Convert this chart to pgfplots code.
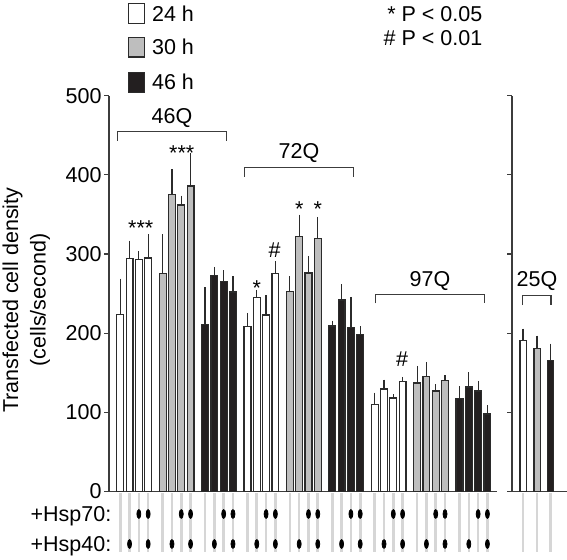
\documentclass[border=0pt]{standalone}
\usepackage{fontspec}
\setmainfont{Liberation Sans}
\usepackage{pgfplots}
\usepackage{pgfplotstable}
\pgfplotsset{compat=1.18}
\definecolor{axisgray}{HTML}{3C3C3C}
\definecolor{barline}{HTML}{2B2B2B}
\definecolor{barfill}{HTML}{BEBEBE}
\definecolor{barblack}{HTML}{231F20}
\definecolor{guide}{HTML}{D6D6D6}
\newcommand\fs{\fontsize{10.75}{13.75}\selectfont}

\pgfplotstableread{
x y e
0 224 42
1 294 20
2 293 8
3 295 27
13.68 208 15
14.68 245 7
15.68 223 22
16.68 275 13
27.36 110 12
28.36 129.5 9
29.36 118 2
30.36 139 3
}\whitedata
\pgfplotstableread{
x y e
4.56 275 47
5.56 375 29
6.56 362 9
7.56 386 39
18.24 253 16
19.24 322 25
20.24 276 19
21.24 320 24
31.92 137 19
32.92 145 16
33.92 127 6
34.92 140 4
}\graydata
\pgfplotstableread{
x y e
9.12 211 44
10.12 273 8
11.12 265 12
12.12 252 17
22.8 209 4
23.8 242 17
24.8 207 36
25.8 198 8
36.48 117 13
37.48 132 16
38.48 127 10
39.48 98 8
}\blackdata
\pgfplotstableread{
x y e
11 191 12
}\rwhite
\pgfplotstableread{
x y e
25 181 13
}\rgray
\pgfplotstableread{
x y e
38.3 166 18
}\rblack

\pgfplotsset{
  panel/.style={
    scale only axis, anchor=south west,
    ymin=0, ymax=500, ytick={0,100,...,500},
    axis lines=left, xtick=\empty,
    axis line style={-, draw=axisgray, line width=0.55pt},
    x axis line style={shorten <=-2.35pt},
    tick align=outside, major tick length=2.35pt,
    tick style={draw=axisgray, line width=0.55pt},
    ticklabel style={font=\fs},
    /pgf/number format/assume math mode=true,
    clip=false,
  },
  errs/.style={error bars/.cd, y dir=plus, y explicit,
    error bar style={line width=0.6pt, draw=barline},
    error mark options={mark size=1.1pt, line width=0.6pt, draw=barline}},
  guides/.style={forget plot, draw=none, mark=none,
    error bars/.cd, y dir=both, y explicit, error mark=none,
    error bar style={line width=1.3pt, draw=guide}},
}

\begin{document}
\begin{tikzpicture}
\useasboundingbox (0,0) rectangle (283.5pt,279.5pt);

\begin{axis}[panel,
  at={(54.5pt,33.75pt)},
  width=194pt, height=197.9pt,
  xmin=-1.21, xmax=40.51,
  yticklabel style={inner sep=0pt, xshift=-1.2pt},
]
% guide lines under the bars
\addplot[guides] coordinates {
(0,-39.25) +- (0,36.75) (1,-39.25) +- (0,36.75) (2,-39.25) +- (0,36.75) (3,-39.25) +- (0,36.75)
(4.56,-39.25) +- (0,36.75) (5.56,-39.25) +- (0,36.75) (6.56,-39.25) +- (0,36.75) (7.56,-39.25) +- (0,36.75)
(9.12,-39.25) +- (0,36.75) (10.12,-39.25) +- (0,36.75) (11.12,-39.25) +- (0,36.75) (12.12,-39.25) +- (0,36.75)
(13.68,-39.25) +- (0,36.75) (14.68,-39.25) +- (0,36.75) (15.68,-39.25) +- (0,36.75) (16.68,-39.25) +- (0,36.75)
(18.24,-39.25) +- (0,36.75) (19.24,-39.25) +- (0,36.75) (20.24,-39.25) +- (0,36.75) (21.24,-39.25) +- (0,36.75)
(22.8,-39.25) +- (0,36.75) (23.8,-39.25) +- (0,36.75) (24.8,-39.25) +- (0,36.75) (25.8,-39.25) +- (0,36.75)
(27.36,-39.25) +- (0,36.75) (28.36,-39.25) +- (0,36.75) (29.36,-39.25) +- (0,36.75) (30.36,-39.25) +- (0,36.75)
(31.92,-39.25) +- (0,36.75) (32.92,-39.25) +- (0,36.75) (33.92,-39.25) +- (0,36.75) (34.92,-39.25) +- (0,36.75)
(36.48,-39.25) +- (0,36.75) (37.48,-39.25) +- (0,36.75) (38.48,-39.25) +- (0,36.75) (39.48,-39.25) +- (0,36.75)
};

\addplot[ybar, bar shift=0pt, bar width=0.74, draw=barline, fill=white, line width=0.6pt, errs]
  table[x=x, y=y, y error=e] {\whitedata};
\addplot[ybar, bar shift=0pt, bar width=0.74, draw=barline, fill=barfill, line width=0.6pt, errs]
  table[x=x, y=y, y error=e] {\graydata};
\addplot[ybar, bar shift=0pt, bar width=0.74, draw=barline, fill=barblack, line width=0.6pt, errs]
  table[x=x, y=y, y error=e] {\blackdata};

% +Hsp70 dots
\addplot[forget plot, only marks, mark=*, mark size=2.2pt, mark options={xscale=0.45, fill=black, draw=none}] coordinates {
(2,-28.4) (3,-28.4) (6.56,-28.4) (7.56,-28.4) (11.12,-28.4) (12.12,-28.4)
(15.68,-28.4) (16.68,-28.4) (20.24,-28.4) (21.24,-28.4) (24.8,-28.4) (25.8,-28.4)
(29.36,-28.4) (30.36,-28.4) (33.92,-28.4) (34.92,-28.4) (38.48,-28.4) (39.48,-28.4)};
% +Hsp40 dots
\addplot[forget plot, only marks, mark=*, mark size=2.2pt, mark options={xscale=0.45, fill=black, draw=none}] coordinates {
(1,-66.3) (3,-66.3) (5.56,-66.3) (7.56,-66.3) (10.12,-66.3) (12.12,-66.3)
(14.68,-66.3) (16.68,-66.3) (19.24,-66.3) (21.24,-66.3) (23.8,-66.3) (25.8,-66.3)
(28.36,-66.3) (30.36,-66.3) (32.92,-66.3) (34.92,-66.3) (37.48,-66.3) (39.48,-66.3)};

% brackets
\addplot[forget plot, draw=axisgray, line width=0.55pt, mark=none] coordinates {(-0.32,443) (-0.32,454.6) (11.45,454.6) (11.45,443)};
\addplot[forget plot, draw=axisgray, line width=0.55pt, mark=none] coordinates {(13.34,397.7) (13.34,409) (25.06,409) (25.06,397.7)};
\addplot[forget plot, draw=axisgray, line width=0.55pt, mark=none] coordinates {(27.47,237.8) (27.47,249) (39.15,249) (39.15,237.8)};

\node[anchor=base, font=\fs, inner sep=0pt] at (axis cs:5.56,464.6) {46Q};
\node[anchor=base, font=\fs, inner sep=0pt] at (axis cs:19.22,420.7) {72Q};
\node[anchor=base, font=\fs, inner sep=0pt] at (axis cs:33.31,259.6) {97Q};

\node[anchor=base, font=\fs, inner sep=0pt] at (axis cs:2.2,322.8) {***};
\node[anchor=base, font=\fs, inner sep=0pt] at (axis cs:6.61,417.9) {***};
\node[anchor=base, font=\fs, inner sep=0pt] at (axis cs:14.68,247.4) {*};
\node[anchor=base, font=\fs, inner sep=0pt] at (axis cs:16.6,296) {\#};
\node[anchor=base, font=\fs, inner sep=0pt] at (axis cs:19.24,346.9) {*};
\node[anchor=base, font=\fs, inner sep=0pt] at (axis cs:21.24,346.9) {*};
\node[anchor=base, font=\fs, inner sep=0pt] at (axis cs:30.3,157.7) {\#};
\end{axis}

\begin{axis}[panel,
  at={(256pt,33.75pt)},
  width=27.5pt, height=197.9pt,
  xmin=0, xmax=55,
  yticklabels={},
]
\addplot[guides] coordinates {(11,-39.25) +- (0,36.75) (25,-39.25) +- (0,36.75) (38.3,-39.25) +- (0,36.75)};
\addplot[ybar, bar shift=0pt, bar width=6.2, draw=barline, fill=white, line width=0.6pt, errs] table[x=x, y=y, y error=e] {\rwhite};
\addplot[ybar, bar shift=0pt, bar width=6.2, draw=barline, fill=barfill, line width=0.6pt, errs] table[x=x, y=y, y error=e] {\rgray};
\addplot[ybar, bar shift=0pt, bar width=6.2, draw=barline, fill=barblack, line width=0.6pt, errs] table[x=x, y=y, y error=e] {\rblack};
\addplot[draw=axisgray, line width=0.55pt, mark=none] coordinates {(10.3,235.6) (10.3,248) (39,248) (39,235.6)};
\node[anchor=base, font=\fs, inner sep=0pt] at (axis cs:25,258.7) {25Q};
\end{axis}

\begin{scope}[x=0.5pt, y=-0.5pt, yshift=279.5pt]
  \node[rotate=90, align=center, font=\fs] at (26.25,300) {Transfected cell density\\(cells/second)};
  \node[anchor=base east, font=\fs, inner sep=0pt] at (111.7,521.7) {+Hsp70:};
  \node[anchor=base east, font=\fs, inner sep=0pt] at (111.7,551.7) {+Hsp40:};
  \node[anchor=base east, font=\fs, inner sep=0pt] at (482.7,21) {* P < 0.05};
  \node[anchor=base east, font=\fs, inner sep=0pt] at (482.7,45.4) {\# P < 0.01};
  % legend
  \node[draw=barline, fill=white, line width=0.6pt, minimum width=8.05pt, minimum height=9.9pt, inner sep=0pt] at (136.35,13.35) {};
  \node[draw=barline, fill=barfill, line width=0.6pt, minimum width=8.05pt, minimum height=9.9pt, inner sep=0pt] at (136.35,47) {};
  \node[draw=barline, fill=barblack, line width=0.6pt, minimum width=8.05pt, minimum height=9.9pt, inner sep=0pt] at (136.35,82.2) {};
  \node[anchor=base west, font=\fs, inner sep=0pt] at (151.7,21) {24 h};
  \node[anchor=base west, font=\fs, inner sep=0pt] at (151.7,54.7) {30 h};
  \node[anchor=base west, font=\fs, inner sep=0pt] at (151.7,89.9) {46 h};
\end{scope}
\end{tikzpicture}
\end{document}
